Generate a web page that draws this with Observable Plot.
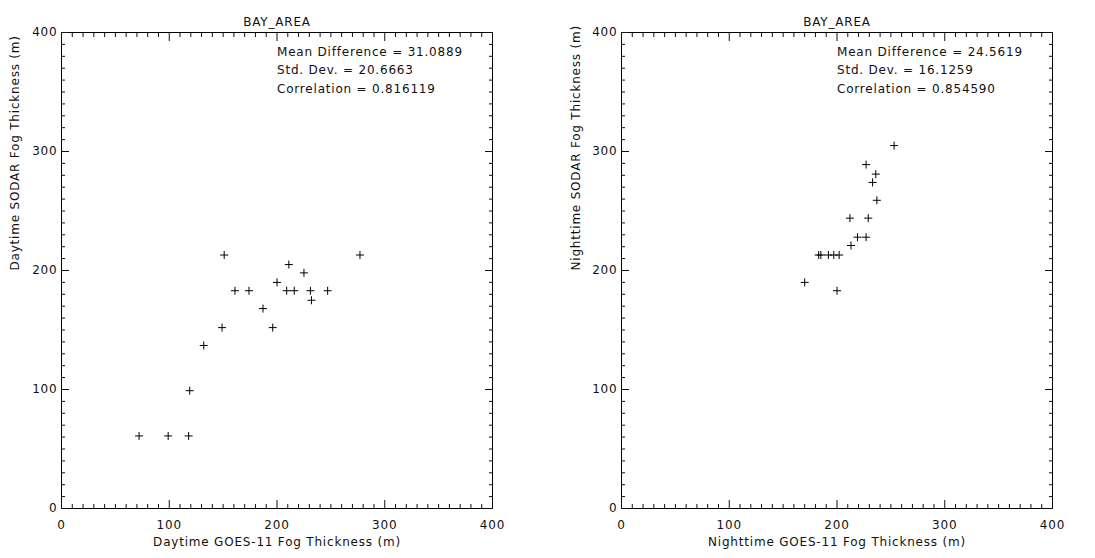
<!DOCTYPE html>
<html><head><meta charset="utf-8">
<script src="https://cdn.jsdelivr.net/npm/d3@7"></script>
<script src="https://cdn.jsdelivr.net/npm/@observablehq/plot@0.6"></script>
<style>
body{margin:0;background:#fff;}
#wrap{display:flex;width:1095px;height:558px;}
#wrap svg{flex:none;}
</style></head><body><div id="wrap"></div>
<script>
const title = "BAY_AREA";
const dayX = [72, 99, 118, 119, 132, 149, 151, 161, 174, 187, 196, 200, 209, 211, 216, 225, 231, 232, 247, 277];
const dayY = [61, 61, 61, 99, 137, 152, 213, 183, 183, 168, 152, 190, 183, 205, 183, 198, 183, 175, 183, 213];
const nightX = [170, 183, 185, 192, 197, 202, 200, 213, 212, 219, 227, 229, 227, 233, 236, 237, 253];
const nightY = [190, 213, 213, 213, 213, 213, 183, 221, 244, 228, 228, 244, 289, 274, 281, 259, 305];
const dayStats = ["Mean Difference = 31.0889", "Std. Dev. = 20.6663", "Correlation = 0.816119"];
const nightStats = ["Mean Difference = 24.5619", "Std. Dev. = 16.1259", "Correlation = 0.854590"];
const dayXLabel = "Daytime GOES-11 Fog Thickness (m)";
const dayYLabel = "Daytime SODAR Fog Thickness (m)";
const nightXLabel = "Nighttime GOES-11 Fog Thickness (m)";
const nightYLabel = "Nighttime SODAR Fog Thickness (m)";
const majorTicks = [0, 100, 200, 300, 400];
const minorTicks = d3.range(0, 401, 10).filter(v => v % 100 !== 0);
const statsX = 200;

function panel(xs, ys, stats, xLabel, yLabel, opts) {
  const data = xs.map((x, i) => ({x, y: ys[i]}));
  const noText = () => "";
  return Plot.plot({
    width: opts.width, height: 558,
    marginLeft: opts.ml, marginRight: opts.mr, marginTop: 32, marginBottom: 50,
    style: {fontFamily: "DejaVu Sans", fontSize: "12px", letterSpacing: "0.8px", color: "#111", background: "#fff"},
    x: {domain: [0, 400]},
    y: {domain: [0, 400]},
    marks: [
      Plot.frame({stroke: "#000", strokeWidth: 1}),
      Plot.axisX({anchor: "bottom", ticks: minorTicks, tickSize: -4, tickFormat: noText, label: null}),
      Plot.axisX({anchor: "top", ticks: minorTicks, tickSize: -4, tickFormat: noText, label: null}),
      Plot.axisX({anchor: "bottom", ticks: majorTicks, tickSize: -8, tickFormat: noText, label: null}),
      Plot.axisX({anchor: "top", ticks: majorTicks, tickSize: -8, tickFormat: noText, label: null}),
      Plot.axisY({anchor: "left", ticks: minorTicks, tickSize: -4, tickFormat: noText, label: null}),
      Plot.axisY({anchor: "right", ticks: minorTicks, tickSize: -4, tickFormat: noText, label: null}),
      Plot.axisY({anchor: "left", ticks: majorTicks, tickSize: -8, tickFormat: noText, label: null}),
      Plot.axisY({anchor: "right", ticks: majorTicks, tickSize: -8, tickFormat: noText, label: null}),
      Plot.axisX({anchor: "bottom", ticks: majorTicks, tickSize: 0, tickPadding: 12, label: null, fontSize: 12}),
      Plot.axisY({anchor: "left", ticks: majorTicks, tickSize: 0, tickPadding: 4, label: null, fontSize: 12}),
      Plot.text([title], {frameAnchor: "top", dy: -15, text: d => d, fill: "#111", fontSize: 12}),
      Plot.text([xLabel], {frameAnchor: "bottom", dy: 37, text: d => d, fill: "#111", fontSize: 12}),
      Plot.text([yLabel], {frameAnchor: "left", dx: opts.ydx, rotate: -90, text: d => d, fill: "#111", fontSize: 12}),
      Plot.text([stats.join("\n")], {x: () => statsX, frameAnchor: "top", dy: 10, lineAnchor: "top", lineHeight: 1.54, textAnchor: "start", text: d => d, fill: "#111", fontSize: 12}),
      Plot.dot(data, {x: "x", y: "y", symbol: "plus", r: 2.7, stroke: "#000", strokeWidth: 1})
    ]
  });
}

const wrap = document.getElementById("wrap");
wrap.appendChild(panel(dayX, dayY, dayStats, dayXLabel, dayYLabel, {width: 548, ml: 61, mr: 56, ydx: -46}));
wrap.appendChild(panel(nightX, nightY, nightStats, nightXLabel, nightYLabel, {width: 547, ml: 73, mr: 43, ydx: -45}));
</script></body></html>
